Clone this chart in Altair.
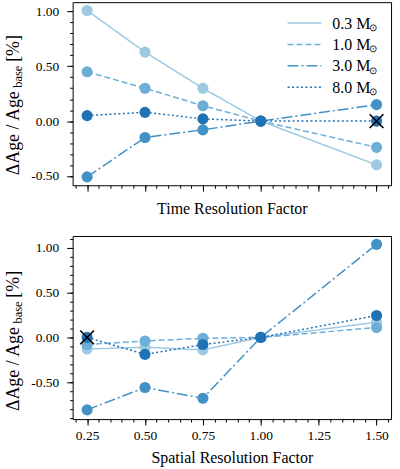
import altair as alt
import pandas as pd

# Resolution factors shared by both panels
factors = [0.25, 0.50, 0.75, 1.00, 1.50]
masses = ["0.3", "1.0", "3.0", "8.0"]
colors = ["#9ecae1", "#6baed6", "#4292c6", "#2171b5"]
dashes = [[1, 0], [6, 3], [11, 3, 2, 3], [2, 2.5]]

# Relative age change [%] vs. time resolution factor, one list per mass
time_03 = [1.01, 0.63, 0.30, 0.00, -0.40]
time_10 = [0.45, 0.30, 0.14, 0.00, -0.24]
time_30 = [-0.51, -0.15, -0.08, 0.00, 0.15]
time_80 = [0.05, 0.08, 0.02, 0.00, 0.00]

# Relative age change [%] vs. spatial resolution factor
space_03 = [-0.13, -0.11, -0.14, 0.00, 0.17]
space_10 = [-0.08, -0.04, -0.01, 0.00, 0.11]
space_30 = [-0.81, -0.56, -0.68, 0.00, 1.04]
space_80 = [0.00, -0.19, -0.08, 0.00, 0.245]

# Run marked with a cross in each panel (factor, value)
time_cross = [1.50, 0.00]
space_cross = [0.25, 0.00]

SERIF = "Liberation Serif, Times New Roman, serif"
W, H = 320, 184
X_DOMAIN = [0.1875, 1.5625]
x_major = [0.25, 0.50, 0.75, 1.00, 1.25, 1.50]
x_minor = [round(0.20 + 0.05 * i, 2) for i in range(28)]
y_major = [-0.5, 0.0, 0.5, 1.0]

MINUS_FIX = "replace(format(datum.value, '.2f'), '\u2212', '-')"


def text_piece(txt, x, y, size, angle=0, align="left", baseline="alphabetic"):
    return alt.Chart(pd.DataFrame({"k": [0]})).mark_text(
        text=txt, font=SERIF, fontSize=size, color="black",
        angle=angle, align=align, baseline=baseline,
    ).encode(x=alt.value(x), y=alt.value(y))


def panel(series, cross, y_domain, y_minor, x_title, show_x_labels, legend=False):
    xs = alt.Scale(domain=X_DOMAIN, nice=False, zero=False)
    ys = alt.Scale(domain=y_domain, nice=False, zero=False)

    major_x = alt.Axis(
        values=x_major, labels=show_x_labels, format=".2f", tickSize=6,
        labelFontSize=13.5, labelPadding=4, title=x_title, titleFontSize=16,
        titleFontWeight="normal", titlePadding=9 if not show_x_labels else 7,
        orient="bottom",
    )
    major_y = alt.Axis(
        values=y_major, labelExpr=MINUS_FIX, tickSize=6, labelFontSize=13.5,
        labelPadding=8, title=None, orient="left",
    )
    minor_x = alt.Axis(values=x_minor, labels=False, tickSize=3, title=None, orient="bottom")
    minor_y = alt.Axis(values=y_minor, labels=False, tickSize=3, title=None, orient="left")

    cross_df = pd.DataFrame({"factor": [cross[0]], "value": [cross[1]]})

    # invisible carrier for the minor tick marks
    layers = [
        alt.Chart(cross_df).mark_point(opacity=0).encode(
            x=alt.X("factor:Q", scale=xs, axis=minor_x),
            y=alt.Y("value:Q", scale=ys, axis=minor_y),
        )
    ]

    for i, (m, vals) in enumerate(zip(masses, series)):
        df = pd.DataFrame({"factor": factors, "value": vals})
        xa = major_x if i == 0 else None
        ya = major_y if i == 0 else None
        layers.append(
            alt.Chart(df).mark_line(
                color=colors[i], strokeWidth=1.5, strokeDash=dashes[i]
            ).encode(x=alt.X("factor:Q", scale=xs, axis=xa),
                     y=alt.Y("value:Q", scale=ys, axis=ya))
        )
        layers.append(
            alt.Chart(df).mark_circle(
                color=colors[i], opacity=1, size=125
            ).encode(x=alt.X("factor:Q", scale=xs, axis=None),
                     y=alt.Y("value:Q", scale=ys, axis=None))
        )

    layers.append(
        alt.Chart(cross_df).mark_point(
            shape="M-1,-1L1,1M1,-1L-1,1", filled=False, color="black",
            strokeWidth=1.6, size=190, opacity=1,
        ).encode(x=alt.X("factor:Q", scale=xs, axis=None),
                 y=alt.Y("value:Q", scale=ys, axis=None))
    )

    if legend:
        rows = [21, 42.5, 64, 85.5]
        for i, m in enumerate(masses):
            layers.append(
                alt.Chart(pd.DataFrame({"k": [0]})).mark_rule(
                    color=colors[i], strokeWidth=1.5, strokeDash=dashes[i]
                ).encode(x=alt.value(216), x2=alt.value(250), y=alt.value(rows[i]))
            )
            layers.append(text_piece(f"{m} M", 261, rows[i] + 5.5, 16))
            layers.append(text_piece("\u2299", 298, rows[i] + 8, 10.5))

    return layers


def y_title(start):
    # ΔAge / Age_base [%], rotated, built from pieces for the subscript
    return [
        text_piece("\u0394Age / Age", -54, start, 18, angle=270),
        text_piece("base", -50.5, start - 88, 12.5, angle=270),
        text_piece("[%]", -54, start - 114, 18, angle=270),
    ]


top_layers = panel(
    [time_03, time_10, time_30, time_80], time_cross, [-0.586, 1.086],
    [round(-0.5 + 0.1 * i, 1) for i in range(16)],
    "Time Resolution Factor", False, legend=True,
) + y_title(174)

bottom_layers = panel(
    [space_03, space_10, space_30, space_80], space_cross, [-0.913, 1.133],
    [round(-0.9 + 0.1 * i, 1) for i in range(21)],
    "Spatial Resolution Factor", True,
) + y_title(176)

top = alt.layer(*top_layers).resolve_axis(x="independent", y="independent").properties(width=W, height=H)
bottom = alt.layer(*bottom_layers).resolve_axis(x="independent", y="independent").properties(width=W, height=H)

chart = alt.vconcat(top, bottom, spacing=18).properties(
    padding={"left": 4, "top": 0, "right": 8, "bottom": 5},
    background="white",
).configure_view(stroke="black", strokeWidth=1).configure_axis(
    grid=False, domain=False, tickColor="black", tickWidth=1,
    labelColor="black", titleColor="black", labelFont=SERIF, titleFont=SERIF,
)

chart.save("out.html", embed_options={"renderer": "svg", "actions": False})
